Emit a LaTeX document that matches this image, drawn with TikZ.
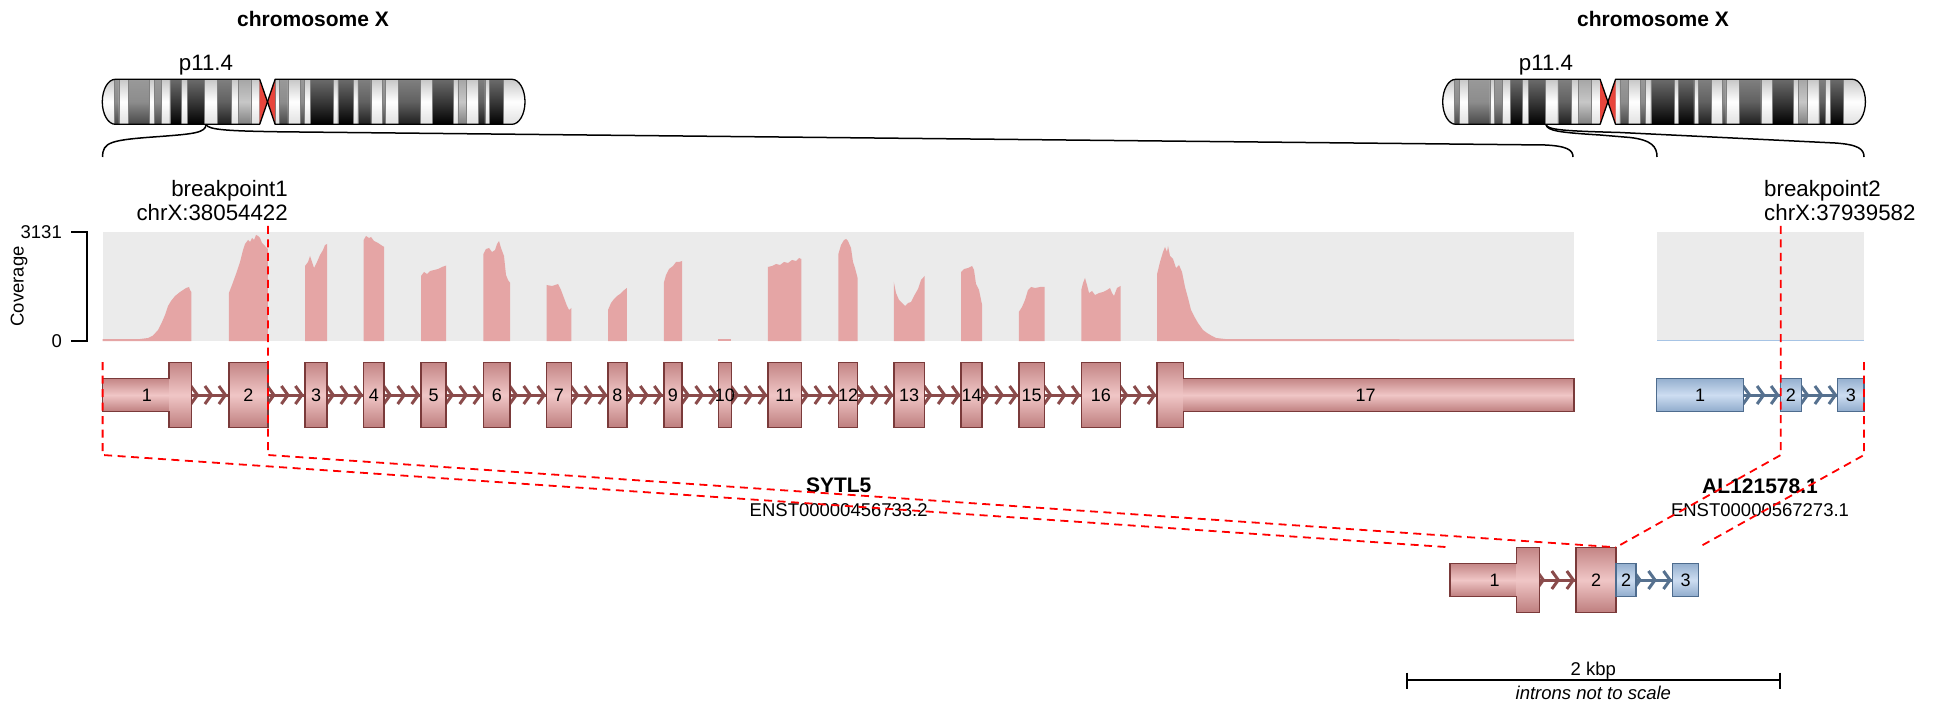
\documentclass[tikz,border=0pt]{standalone}
\usepackage{fontspec}
\setmainfont{Liberation Sans}
\definecolor{covred}{HTML}{E5A5A5}
\definecolor{covblue}{HTML}{A7C4E5}
\definecolor{covbg}{HTML}{EBEBEB}
\definecolor{exrTop}{HTML}{C38585}
\definecolor{exrMid}{HTML}{F0C6C6}
\definecolor{exrBot}{HTML}{BE7E7E}
\definecolor{exrLine}{HTML}{7A3A3A}
\definecolor{intR}{HTML}{8A4B4B}
\definecolor{exbTop}{HTML}{94AFCE}
\definecolor{exbMid}{HTML}{CDDDF1}
\definecolor{exbBot}{HTML}{8FABCC}
\definecolor{exbLine}{HTML}{4E6C8E}
\definecolor{intB}{HTML}{56718F}
\definecolor{centro}{HTML}{E8453C}
\tikzset{
  ttl/.style={font=\fontsize{21}{24}\selectfont\bfseries, anchor=base, inner sep=0pt},
  lbl/.style={font=\fontsize{22.3}{26}\selectfont, anchor=base, inner sep=0pt},
  sml/.style={font=\fontsize{18.5}{22}\selectfont, anchor=base, inner sep=0pt},
  num/.style={font=\fontsize{18}{20}\selectfont, anchor=base, inner sep=0pt},
  chromline/.style={draw=black, line width=1.3pt, line join=round},
  link/.style={draw=black, line width=1.5pt},
  axisline/.style={draw=black, line width=1.8pt},
  bpline/.style={draw=red, line width=1.8pt, dash pattern=on 8pt off 5.5pt},
  exR/.style={top color=exrTop, bottom color=exrBot, middle color=exrMid},
  exB/.style={top color=exbTop, bottom color=exbBot, middle color=exbMid},
  exRline/.style={draw=exrLine, line width=1.5pt},
  exBline/.style={draw=exbLine, line width=1.5pt},
  intRline/.style={draw=intR, line width=3pt},
  intBline/.style={draw=intB, line width=3pt},
  chevR/.style={draw=intR, line width=3pt, line join=miter},
  chevB/.style={draw=intB, line width=3pt, line join=miter},
  % chromosome X ideogram, local x from 0 (pter) to 422.7 (qter)
  chromx/.pic={
    \begin{scope}
      \clip (13,79.3) -- (157.4,79.3) -- (157.4,124.3) -- (13,124.3)
        .. controls (5.82,124.3) and (0,114.23) .. (0,101.8)
        .. controls (0,89.37) and (5.82,79.3) .. (13,79.3) -- cycle;
      \foreach \a/\b/\tp/\md/\bt in {0/4.4/22/0/12, 4.4/6.1/40/45/72, 6.1/9.6/22/0/12,
        9.6/17.4/40/45/72, 17.4/19.2/22/0/12, 19.2/21.9/40/45/72, 21.9/24.9/22/0/12,
        24.9/29.3/58/78/100, 29.3/31.5/22/0/12, 31.5/37.8/58/78/100, 37.8/42.5/22/0/12,
        42.5/47.6/50/62/88, 47.6/50.1/22/0/12, 50.1/54.8/35/22/50, 54.8/58.1/22/0/12}
        \path[top color=black!\tp, bottom color=black!\bt, middle color=black!\md,
              draw=black!50, line width=0.5pt]
          ({\a*2.7089},79.3) rectangle ({\b*2.7089},124.3);
    \end{scope}
    \begin{scope}
      \clip (172.8,79.3) -- (409.7,79.3)
        .. controls (416.88,79.3) and (422.7,89.37) .. (422.7,101.8)
        .. controls (422.7,114.23) and (416.88,124.3) .. (409.7,124.3)
        -- (172.8,124.3) -- cycle;
      \foreach \a/\b/\tp/\md/\bt in {63.8/65.4/22/0/12, 65.4/68.5/40/45/72, 68.5/73.0/22/0/12,
        73.0/74.7/40/45/72, 74.7/76.8/22/0/12, 76.8/85.4/58/78/100, 85.4/87.0/22/0/12,
        87.0/92.7/58/78/100, 92.7/94.3/22/0/12, 94.3/99.1/50/62/88, 99.1/103.3/22/0/12,
        103.3/104.5/40/45/72, 104.5/109.4/22/0/12, 109.4/117.4/50/62/88, 117.4/121.8/22/0/12,
        121.8/129.5/58/78/100, 129.5/131.3/22/0/12, 131.3/134.5/35/22/50, 134.5/138.9/22/0/12,
        138.9/141.2/50/62/88, 141.2/143.0/22/0/12, 143.0/148.0/58/78/100, 148.0/156.04/22/0/12}
        \path[top color=black!\tp, bottom color=black!\bt, middle color=black!\md,
              draw=black!50, line width=0.5pt]
          ({\a*2.7089},79.3) rectangle ({\b*2.7089},124.3);
    \end{scope}
    \fill[centro] (157.4,79.3) -- (165.2,101.8) -- (157.4,124.3) -- cycle;
    \fill[centro] (172.8,79.3) -- (165.2,101.8) -- (172.8,124.3) -- cycle;
    \draw[chromline] (13,79.3) -- (157.4,79.3) -- (165.2,101.8) -- (157.4,124.3) -- (13,124.3)
        .. controls (5.82,124.3) and (0,114.23) .. (0,101.8)
        .. controls (0,89.37) and (5.82,79.3) .. (13,79.3) -- cycle;
    \draw[chromline] (172.8,79.3) -- (409.7,79.3)
        .. controls (416.88,79.3) and (422.7,89.37) .. (422.7,101.8)
        .. controls (422.7,114.23) and (416.88,124.3) .. (409.7,124.3)
        -- (172.8,124.3) -- (165.2,101.8) -- cycle;
  }
}
\begin{document}
\begin{tikzpicture}[x=1pt,y=-1pt]
\useasboundingbox (0,0) rectangle (1934,708);
\fill[white] (0,0) rectangle (1934,708);

% ---------- ideograms ----------
\node[ttl] (title1) at (313,27) {chromosome X};
\node[ttl] (title2) at (1653,27) {chromosome X};
\node[lbl] (band1) at (206,71) {p11.4};
\node[lbl] (band2) at (1546,71) {p11.4};
\pic at (102.3,0) {chromx};
\pic at (1442.7,0) {chromx};

\coordinate (chr1bp) at (206,124.5);
\coordinate (chr2bp) at (1546,124.5);
\coordinate (g1left) at (102.6,157);
\coordinate (g1right) at (1573,157);
\coordinate (g2left) at (1657,157);
\coordinate (g2right) at (1864,157);
\draw[link] (chr1bp) .. controls (206,133) and (192,134) .. (160,136.5)
  .. controls (110,140) and (102.6,142) .. (g1left);
\draw[link] (chr1bp) .. controls (208,130) and (230,131) .. (280,131.8)
  -- (1545,145) .. controls (1567,146) and (1573,150) .. (g1right);
\draw[link] (chr2bp) .. controls (1547,131) and (1560,132.5) .. (1600,135)
  -- (1630,137.5) .. controls (1652,140) and (1657,147) .. (g2left);
\draw[link] (chr2bp) .. controls (1547,130) and (1565,131) .. (1620,132.5)
  -- (1835,143) .. controls (1858,144.5) and (1864,149) .. (g2right);

% ---------- coverage ----------
\fill[covbg] (102.6,232.3) rectangle (1574,341);
\fill[covbg] (1657,232.3) rectangle (1864,341);
\begin{scope}[fill=covred]
\fill plot coordinates {(102.6,341) (102.6,339) (140,339) (148,338) (153,335.5) (158,330) (162,322) (165,315) (168,306) (171,301) (175,296) (180,292) (186,288) (189,287) (190,290) (191.4,292) (191.4,341)} -- cycle;
\fill plot coordinates {(228.9,341) (228.9,293) (232,285) (236,274) (240,262) (243,250) (245,244) (248,240) (250,242) (252,238) (254,240) (256,235) (258,236) (260,238) (262,243) (265,246) (267.9,249) (267.9,341)} -- cycle;
\fill plot coordinates {(305,341) (305,266) (308,262) (310,256) (312,262) (314,268) (317,262) (320,255) (323,250) (325,245) (327.2,244) (327.2,341)} -- cycle;
\fill plot coordinates {(363.6,341) (363.6,240) (366,236) (369,238) (371,237) (374,241) (378,243) (381,245) (384.2,247) (384.2,341)} -- cycle;
\fill plot coordinates {(421,341) (421,276) (424,272) (427,274) (430,271) (434,270) (438,269) (442,267) (446.2,265.5) (446.2,341)} -- cycle;
\fill plot coordinates {(483.4,341) (483.4,254) (486,249) (489,248) (492,252) (495,250) (497,244) (499,241) (501,248) (504,256) (506,275) (508,280) (510.2,283) (510.2,341)} -- cycle;
\fill plot coordinates {(546.5,341) (546.5,285) (552,286) (558,284) (561,290) (564,298) (567,306) (569,310) (571.4,308) (571.4,341)} -- cycle;
\fill plot coordinates {(608,341) (608,310) (611,303) (614,299) (617,296) (620,294) (623,291) (626.8,288) (626.8,341)} -- cycle;
\fill plot coordinates {(663.8,341) (663.8,283) (666,275) (669,269) (673,266) (676,262) (679,262) (682.1,261) (682.1,341)} -- cycle;
\fill (718.3,338.5) rectangle (731.3,341);
\fill plot coordinates {(767.9,341) (767.9,267) (772,266) (776,264) (780,265) (784,262) (788,263) (792,260) (796,261) (799,258) (801.3,259) (801.3,341)} -- cycle;
\fill plot coordinates {(838.4,341) (838.4,254) (841,245) (844,240) (846,239) (848,241) (851,248) (853,262) (855,268) (857.6,278) (857.6,341)} -- cycle;
\fill plot coordinates {(893.8,341) (893.8,282) (896,293) (899,300) (902,303) (905,306) (908,303) (911,302) (914,296) (918,289) (921,280) (924.6,276) (924.6,341)} -- cycle;
\fill plot coordinates {(961.2,341) (961.2,272) (964,269) (968,268) (972,266) (974,270) (976,284) (979,290) (982.1,305) (982.1,341)} -- cycle;
\fill plot coordinates {(1018.8,341) (1018.8,312) (1022,307) (1025,300) (1028,290) (1031,287) (1035,288) (1040,287) (1044.6,287) (1044.6,341)} -- cycle;
\fill plot coordinates {(1081.3,341) (1081.3,290) (1083,283) (1085,278) (1087,285) (1089,293) (1092,291) (1095,295) (1099,293) (1103,292) (1107,290) (1110,288) (1112,293) (1114,296) (1117,288) (1120.5,286) (1120.5,341)} -- cycle;
\fill plot coordinates {(1157.1,341) (1157.1,274) (1160,262) (1163,252) (1165,247) (1167,252) (1168,246) (1170,256) (1173,259) (1176,268) (1179,265) (1182,272) (1185,287) (1188,298) (1191,310) (1194,316) (1198,323) (1203,330) (1207,333) (1212,336) (1216,338) (1225,339) (1574,339.5) (1574,341)} -- cycle;
\end{scope}
\fill[covblue] (1657,339.6) rectangle (1864,341);

\draw[axisline] (71,232.3) -- (87.3,232.3) -- (87.3,341) -- (71,341);
\node[sml, anchor=base east] (ymax) at (62,239) {3131};
\node[sml, anchor=base east] (ymin) at (62,347.5) {0};
\node[sml, anchor=center, rotate=90] (ylab) at (19,286.5) {Coverage};

% ---------- SYTL5 transcript ----------
\draw[intRline] (191.4,395) -- (1157.1,395);
\foreach \a in {191.4,267.9,327.2,384.2,446.2,510.2,571.4,626.8,682.1,731.3,801.3,857.6,924.6,982.1,1044.6,1120.5}
  \foreach \k in {6,20,34}
    \draw[chevR] ({\a+\k-6.5},386) -- ({\a+\k},395) -- ({\a+\k-6.5},404);
\path[exR] (102.6,378.3) rectangle (169.2,411.7);
\path[exR] (169.2,362.3) rectangle (191.4,427.7);
\draw[exRline] (102.6,378.3) -- (169.2,378.3) -- (169.2,362.3) -- (191.4,362.3) -- (191.4,427.7)
  -- (169.2,427.7) -- (169.2,411.7) -- (102.6,411.7) -- cycle;
\node[num] (s1) at (147,401.4) {1};
\foreach \a/\b/\n in {228.9/267.9/2, 305/327.2/3, 363.6/384.2/4, 421/446.2/5, 483.4/510.2/6,
  546.5/571.4/7, 608/626.8/8, 663.8/682.1/9, 718.3/731.3/10, 767.9/801.3/11, 838.4/857.6/12,
  893.8/924.6/13, 961.2/982.1/14, 1018.8/1044.6/15, 1081.3/1120.5/16}
{
  \path[exR, exRline] (\a,362.3) rectangle (\b,427.7);
  \node[num] (s\n) at ({(\a+\b)/2},401.4) {\n};
}
\path[exR] (1157.1,362.3) rectangle (1183.5,427.7);
\path[exR] (1183.5,378.3) rectangle (1574,411.7);
\draw[exRline] (1157.1,362.3) -- (1183.5,362.3) -- (1183.5,378.3) -- (1574,378.3) -- (1574,411.7)
  -- (1183.5,411.7) -- (1183.5,427.7) -- (1157.1,427.7) -- cycle;
\node[num] (s17) at (1365.5,401.4) {17};

% ---------- AL121578.1 transcript ----------
\draw[intBline] (1743.6,395) -- (1837.4,395);
\foreach \a in {1743.6,1801.4}
  \foreach \k in {6,20,34}
    \draw[chevB] ({\a+\k-6.5},386) -- ({\a+\k},395) -- ({\a+\k-6.5},404);
\foreach \a/\b/\n in {1656.7/1743.6/1, 1780.4/1801.4/2, 1837.4/1864.1/3}
{
  \path[exB, exBline] (\a,378.3) rectangle (\b,411.7);
  \node[num] (b\n) at ({(\a+\b)/2},401.4) {\n};
}

% ---------- gene names ----------
\node[ttl] (gene1) at (838.7,492) {SYTL5};
\node[sml] (tx1) at (838.7,516) {ENST00000456733.2};
\node[ttl] (gene2) at (1760,493) {AL121578.1};
\node[sml] (tx2) at (1760,516.5) {ENST00000567273.1};

% ---------- fusion transcript ----------
\draw[intRline] (1539.3,580) -- (1576,580);
\foreach \k in {4,19,34}
  \draw[chevR] ({1539.3+\k-6.5},571) -- ({1539.3+\k},580) -- ({1539.3+\k-6.5},589);
\draw[intBline] (1636,580) -- (1672.7,580);
\foreach \k in {4,19,34}
  \draw[chevB] ({1636+\k-6.5},571) -- ({1636+\k},580) -- ({1636+\k-6.5},589);
\path[exR] (1450,563.3) rectangle (1516.7,596.7);
\path[exR] (1516.7,547.3) rectangle (1539.3,612.7);
\draw[exRline] (1450,563.3) -- (1516.7,563.3) -- (1516.7,547.3) -- (1539.3,547.3) -- (1539.3,612.7)
  -- (1516.7,612.7) -- (1516.7,596.7) -- (1450,596.7) -- cycle;
\node[num] (f1) at (1494.6,586.4) {1};
\path[exR, exRline] (1576,547.3) rectangle (1616,612.7);
\node[num] (f2) at (1596,586.4) {2};
\path[exB, exBline] (1616,563.3) rectangle (1636,596.7);
\node[num] (f3) at (1626,586.4) {2};
\path[exB, exBline] (1672.7,563.3) rectangle (1698.7,596.7);
\node[num] (f4) at (1685.7,586.4) {3};

% ---------- breakpoints ----------
\node[lbl, anchor=base east] (bp1a) at (288,196.5) {breakpoint1};
\node[lbl, anchor=base east] (bp1b) at (288,221) {chrX:38054422};
\node[lbl, anchor=base west] (bp2a) at (1764,196.5) {breakpoint2};
\node[lbl, anchor=base west] (bp2b) at (1764,221) {chrX:37939582};

\coordinate (bp1top) at (267.9,226);
\coordinate (bp1bot) at (267.9,455);
\coordinate (s5top) at (102.6,362);
\coordinate (s5bot) at (102.6,455);
\coordinate (bp2top) at (1780.8,226);
\coordinate (bp2bot) at (1780.8,455);
\coordinate (b3top) at (1864,362);
\coordinate (b3bot) at (1864,455);
\coordinate (fusL) at (1450,547.3);
\coordinate (fusJ) at (1616,547.3);
\coordinate (fusR) at (1698.7,547.3);
\draw[bpline] (s5top) -- (s5bot) -- (fusL);
\draw[bpline] (bp1top) -- (bp1bot) -- (fusJ);
\draw[bpline] (bp2top) -- (bp2bot) -- (fusJ);
\draw[bpline] (b3top) -- (b3bot) -- (fusR);

% ---------- scale bar ----------
\coordinate (sbL) at (1406.7,680);
\coordinate (sbR) at (1780,680);
\draw[axisline] (sbL) -- (sbR);
\draw[axisline] (1406.7,672.5) -- (1406.7,688.5);
\draw[axisline] (1780,672.5) -- (1780,688.5);
\node[sml] (sbtxt) at (1593.3,675) {2 kbp};
\node[sml, font=\fontsize{18.5}{22}\selectfont\itshape] (sbnote) at (1593.3,699) {introns not to scale};
\end{tikzpicture}
\end{document}
